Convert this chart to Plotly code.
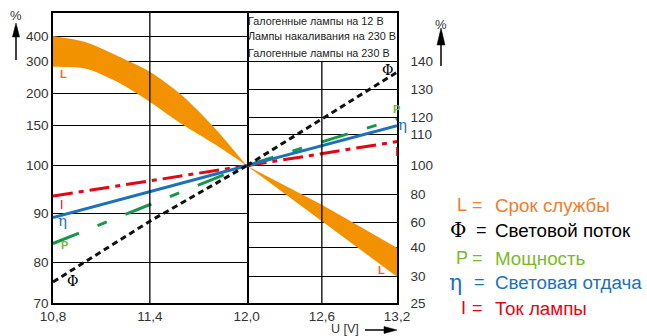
import numpy as np
import plotly.graph_objects as go

# ---------------- data ----------------
x_left = [10.8, 11.4, 12.0]
x_right = [12.0, 12.6, 13.2]

phi_left = [75, 88.3, 100]
phi_right = [100, 118.8, 136]
p_left = [83.7, 91.7, 100]
p_right = [100, 107.5, 119]
eta_left = [89.1, 94.5, 100]
eta_right = [100, 106.3, 114.9]
i_left = [93.5, 96.7, 100]
i_right = [100, 103.8, 107.6]

xL_left = [10.8, 11.0, 11.2, 11.4, 11.6, 11.8, 12.0]
L_up_left = [400, 374, 320, 264, 196, 146, 100]
L_lo_left = [281, 275, 231, 185, 151, 124, 100]
xL_right = [12.0, 12.6, 13.2]
L_up_right = [100, 72, 40]
L_lo_right = [100, 61, 30]

left_ticks = [70, 80, 90, 100, 150, 200, 300, 400]
right_ticks = [25, 30, 40, 60, 80, 100, 110, 120, 130, 140]
x_ticks_left = [10.8, 11.4, 12.0]
x_ticks_right = [12.6, 13.2]
x_text_left = ["10,8", "11,4", "12,0"]
x_text_right = ["12,6", "13,2"]

headers = ["Галогенные лампы на 12 В", "Лампы накаливания на 230 В", "Галогенные лампы на 230 В"]
legend_symbols = ["L", "Φ", "P", "η", "I"]
legend_texts = ["Срок службы", "Световой поток", "Мощность", "Световая отдача", "Ток лампы"]
axis_title_x = "U [V]"

# ---------------- layout constants ----------------
W, H = 647, 336
L_M, R_M, T_M, B_M = 53, 250, 13, 33
PW = W - L_M - R_M
PH = H - T_M - B_M
XSPLIT = (246.7 - L_M) / PW

# heights (px above plot bottom) at which the non-uniform axis ticks sit
left_pos = [0, 40.7, 89.7, 137.3, 178, 209.7, 241.3, 267]
right_pos = [0, 26.3, 55.3, 80.3, 108.7, 137.3, 168.7, 185.7, 214, 241.5]


def yl(v):
    return np.interp(np.log10(np.array(v, float)), np.log10(left_ticks), left_pos)


def yr(v):
    return np.interp(np.log10(np.array(v, float)), np.log10(right_ticks), right_pos)


def px(xp):
    return (xp - L_M) / PW


def py(yp):
    return (H - B_M - yp) / PH


ORANGE = "#F39200"
ORANGE_T = "#EC6C2A"
RED = "#E30613"
BLUE = "#1D71B8"
GREEN = "#16974A"
LGREEN = "#7AB929"
FONT = "Liberation Sans"
SERIF = "DejaVu Serif"

fig = go.Figure()

# L band, left
fig.add_trace(go.Scatter(x=xL_left, y=yl(L_lo_left), mode="lines", xaxis="x", yaxis="y",
                         line=dict(width=0, shape="spline", smoothing=0.8, color=ORANGE),
                         hoverinfo="skip", showlegend=False))
fig.add_trace(go.Scatter(x=xL_left, y=yl(L_up_left), mode="lines", xaxis="x", yaxis="y",
                         line=dict(width=0, shape="spline", smoothing=0.8, color=ORANGE),
                         fill="tonexty", fillcolor=ORANGE, hoverinfo="skip", showlegend=False))
# L band, right
fig.add_trace(go.Scatter(x=xL_right, y=yr(L_lo_right), mode="lines", xaxis="x2", yaxis="y2",
                         line=dict(width=0, color=ORANGE), hoverinfo="skip", showlegend=False))
fig.add_trace(go.Scatter(x=xL_right, y=yr(L_up_right), mode="lines", xaxis="x2", yaxis="y2",
                         line=dict(width=0, color=ORANGE), fill="tonexty", fillcolor=ORANGE,
                         hoverinfo="skip", showlegend=False))

styles = [
    (i_left, i_right, RED, "20px,6px,5px,6px"),
    (p_left, p_right, GREEN, "28px,20px,10px,20px"),
    (eta_left, eta_right, BLUE, "solid"),
    (phi_left, phi_right, "#111111", "6px,4px"),
]
for lv, rv, col, dash in styles:
    fig.add_trace(go.Scatter(x=x_left, y=yl(lv), mode="lines", xaxis="x", yaxis="y",
                             line=dict(color=col, width=3, dash=dash), showlegend=False))
    fig.add_trace(go.Scatter(x=x_right, y=yr(rv), mode="lines", xaxis="x2", yaxis="y2",
                             line=dict(color=col, width=3, dash=dash), showlegend=False))

tickfont = dict(family=FONT, size=13.5, color="#333333")
common_x = dict(showgrid=False, zeroline=False, showline=True, linecolor="black", linewidth=1.5,
                mirror=True, ticks="", tickfont=tickfont, fixedrange=True)
common_y = dict(range=[0, PH], showgrid=True, gridcolor="black", gridwidth=1.3, zeroline=False,
                showline=True, linecolor="black", linewidth=1.5, ticks="",
                tickfont=tickfont, fixedrange=True)

fig.update_layout(
    width=W, height=H, margin=dict(l=L_M, r=R_M, t=T_M, b=B_M),
    paper_bgcolor="white", plot_bgcolor="white", showlegend=False,
    xaxis=dict(domain=[0, XSPLIT], range=[10.8, 12.0], tickvals=x_ticks_left,
               ticktext=x_text_left, anchor="y", **common_x),
    xaxis2=dict(domain=[XSPLIT, 1], range=[12.0, 13.2], tickvals=x_ticks_right,
                ticktext=x_text_right, anchor="y2", **common_x),
    yaxis=dict(anchor="x", tickvals=left_pos, ticktext=[str(t) for t in left_ticks],
               mirror=True, **common_y),
    yaxis2=dict(anchor="x2", side="right", tickvals=right_pos, mirror=False,
                ticktext=[str(t) for t in right_ticks], ticklabelstandoff=9, **common_y),
)

shapes = []
# vertical grid lines
shapes.append(dict(type="line", xref="x", yref="paper", x0=11.4, x1=11.4, y0=0, y1=1,
                   line=dict(color="black", width=1.3)))
shapes.append(dict(type="line", xref="x2", yref="y2", x0=12.6, x1=12.6, y0=0, y1=right_pos[-1],
                   line=dict(color="black", width=1.3)))


def arrow_up(xc, ytip, ybase, yend, hw):
    shapes.append(dict(type="line", xref="paper", yref="paper", x0=px(xc), x1=px(xc),
                       y0=py(ybase), y1=py(yend), line=dict(color="black", width=1.5)))
    shapes.append(dict(type="path", xref="paper", yref="paper",
                       path=f"M {px(xc-hw)},{py(ybase)} L {px(xc+hw)},{py(ybase)} L {px(xc)},{py(ytip)} Z",
                       fillcolor="black", line=dict(color="black", width=0.5)))


arrow_up(16, 23, 37, 60, 3.6)
arrow_up(441, 28, 45, 66, 4)
# arrow right for U axis
shapes.append(dict(type="line", xref="paper", yref="paper", x0=px(365), x1=px(385),
                   y0=py(330), y1=py(330), line=dict(color="black", width=1.5)))
shapes.append(dict(type="path", xref="paper", yref="paper",
                   path=f"M {px(384)},{py(326.5)} L {px(384)},{py(333.5)} L {px(397)},{py(330)} Z",
                   fillcolor="black", line=dict(color="black", width=0.5)))
fig.update_layout(shapes=shapes)

ann = []


def text(xp, yp, s, color="black", size=12, family=FONT, xanchor="center", bold=False):
    ann.append(dict(x=px(xp), y=py(yp), xref="paper", yref="paper", text=(f"<b>{s}</b>" if bold else s),
                    showarrow=False, xanchor=xanchor, yanchor="middle",
                    font=dict(color=color, size=size, family=family)))


text(15.5, 15.5, "%", "#333333", 13)
text(441, 24.5, "%", "#333333", 13)
text(345, 329, axis_title_x, "#333333", 12.5)

for yy, s in zip([20.5, 36, 52.5], headers):
    text(245.5, yy, s, "#222222", 10.8, xanchor="left")

# in-chart curve labels
text(63, 74, "L", ORANGE_T, 11, bold=True)
text(61, 205, "I", RED, 12)
text(62.5, 221, "η", BLUE, 15, SERIF)
text(64.3, 245, "P", LGREEN, 11, bold=True)
text(72, 281, "Φ", "black", 14, SERIF)
text(387, 70, "Φ", "black", 14, SERIF)
text(396.5, 109, "P", LGREEN, 11, bold=True)
text(402, 125, "η", BLUE, 15, SERIF)
text(396.5, 152, "I", RED, 12)
text(381.7, 269.5, "L", ORANGE_T, 11, bold=True)

# legend block
rows_y = [205, 230, 258, 282, 308]
sym_x = [461.7, 457.5, 462, 455.5, 464]
eq_x = [477.5, 481, 477.5, 479, 477.5]
cols = ["#EF7D2D", "black", LGREEN, BLUE, RED]
sym_font = [FONT, SERIF, FONT, SERIF, FONT]
sym_size = [18, 20, 18, 22, 18]
for k in range(5):
    text(sym_x[k], rows_y[k], legend_symbols[k], cols[k], sym_size[k], sym_font[k])
    text(eq_x[k], rows_y[k], "=", cols[k], 18)
    text(493, rows_y[k], legend_texts[k], cols[k], 18.8, xanchor="left")

fig.update_layout(annotations=ann)
fig.write_html("out.html", config={"displayModeBar": False},
               post_script="document.body.style.margin='0';document.body.style.padding='0';")
